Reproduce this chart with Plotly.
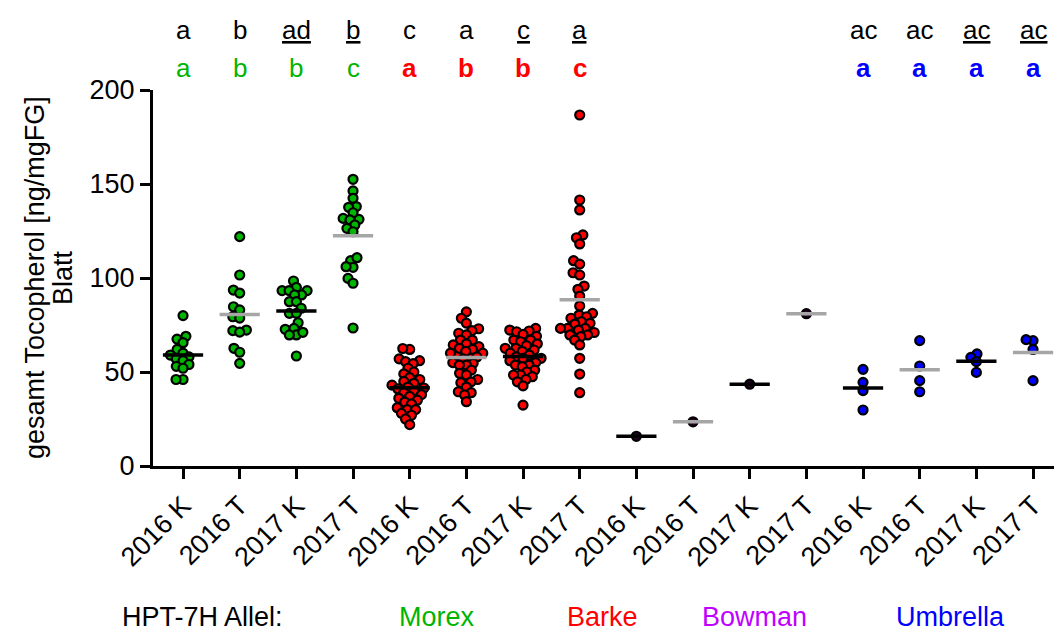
import numpy as np
import plotly.graph_objects as go

# --- data -------------------------------------------------------------
tick_labels = ["2016 K", "2016 T", "2017 K", "2017 T"] * 4
alleles = ["Morex", "Barke", "Bowman", "Umbrella"]
allele_colors = {"Morex": "#00b400", "Barke": "#ff0000", "Bowman": "#2a002a", "Umbrella": "#0000ff"}
legend_colors = {"Morex": "#00b400", "Barke": "#ff0000", "Bowman": "#c000ff", "Umbrella": "#0000ff"}

morex_2016K = [80, 69, 67.5, 65.6, 62, 60, 59, 58, 57, 56, 54, 53, 52, 46, 46]
morex_2016T = [122, 101.6, 93.6, 92, 84.7, 83, 79.4, 78.7, 72.3, 72, 71.2, 62.6, 60.5, 54.6]
morex_2017K = [98.4, 95, 93.3, 93.3, 93.3, 91, 91, 87.4, 87.4, 83.9, 81.2, 81.2, 76.2,
               72.7, 73.2, 69.7, 69.7, 71.1, 58.5]
morex_2017T = [152.5, 146.3, 142.4, 138, 137.6, 134.7, 131.7, 130.9, 131.2, 128.2, 126.4,
               124.6, 109.2, 105.7, 106, 110.8, 99.8, 97.2, 73.4]

barke_2016K = [62, 62.5, 57, 56, 55.5, 54.5, 52, 50, 49, 47, 46, 45, 44, 43, 42, 41.5,
               41, 40, 39, 38, 37, 36, 35, 34, 33, 31, 30, 30, 28, 27, 25, 22]
barke_2016T = [82, 78.6, 76, 73, 72, 70.6, 69.7, 59, 67, 58, 67, 65, 64.4, 63.5, 62.6, 62,
               61, 60, 60, 58, 57, 55, 54.6, 53.7, 53.7, 51, 49.3, 48.4, 46, 44.8, 44.3,
               42, 39.5, 39, 37.8, 34.2]
barke_2017K = [73.2, 72.3, 71.8, 71.4, 70, 69, 67, 67, 66.1, 65, 64, 62.6, 62.6, 61.7, 61,
               60, 59, 58, 57.3, 57.3, 56, 55, 53.7, 53.7, 52.8, 51, 50, 48.4, 48.4, 47.5,
               46, 44.8, 42.6, 32.4]
barke_2017T = [186.7, 141.5, 136.2, 122.9, 121.4, 118.1, 109.2, 107.4, 102.8, 101.6, 95.7,
               94, 90.4, 85.1, 81.2, 80.3, 79.4, 78.6, 76.8, 75.9, 75.5, 73.2, 73.2, 73.2,
               72.3, 71, 69.7, 69.7, 68.8, 67, 64.4, 57.3, 48.9, 39]

bowman_2016K = [15.8]
bowman_2016T = [23.5]
bowman_2017K = [43.5]
bowman_2017T = [81]

umbrella_2016K = [51.4, 44.5, 40.1, 29.8]
umbrella_2016T = [66.7, 53.2, 45.4, 39.5]
umbrella_2017K = [59.6, 57.8, 55.5, 49.8]
umbrella_2017T = [66.7, 67.2, 62, 45.4]

groups = [
    ("Morex", [morex_2016K, morex_2016T, morex_2017K, morex_2017T]),
    ("Barke", [barke_2016K, barke_2016T, barke_2017K, barke_2017T]),
    ("Bowman", [bowman_2016K, bowman_2016T, bowman_2017K, bowman_2017T]),
    ("Umbrella", [umbrella_2016K, umbrella_2016T, umbrella_2017K, umbrella_2017T]),
]

# significance letters (upper row: all lines; lower row: within allele)
letters_top = ["a", "b", "<u>ad</u>", "<u>b</u>", "c", "a", "<u>c</u>", "<u>a</u>",
               "", "", "", "", "ac", "ac", "<u>ac</u>", "<u>ac</u>"]
letters_low = ["a", "b", "b", "c", "<b>a</b>", "<b>b</b>", "<b>b</b>", "<b>c</b>",
               "", "", "", "", "<b>a</b>", "<b>a</b>", "<b>a</b>", "<b>a</b>"]
letters_low_colors = ["#00b400"] * 4 + ["#ff0000"] * 4 + ["#c000ff"] * 4 + ["#0000ff"] * 4

y_title_lines = ["gesamt Tocopherol [ng/mgFG]", "Blatt"]

# --- layout geometry ---------------------------------------------------
W, H = 1054, 633
M_L, M_R, M_T, M_B = 153, 0, 90, 167
X_RANGE = [-0.53, 15.37]
Y_RANGE = [0, 200]
PX_X = (W - M_L - M_R) / (X_RANGE[1] - X_RANGE[0])
PX_Y = (H - M_T - M_B) / (Y_RANGE[1] - Y_RANGE[0])
FONT = "Liberation Sans, Arial, sans-serif"


def swarm_offsets(values, diam=7.0):
    """Beeswarm: horizontal offsets (in x units) so markers barely overlap."""
    vals = np.asarray(values, dtype=float)
    order = np.argsort(vals)
    placed = []
    offs = np.zeros(len(vals))
    for i in order:
        y = vals[i] * PX_Y
        blocks = []
        for xj, yj in placed:
            dy = abs(y - yj)
            if dy < diam:
                w = np.sqrt(diam * diam - dy * dy)
                blocks.append((xj - w, xj + w))
        cands = [0.0] + [a for a, _ in blocks] + [b for _, b in blocks]
        cands.sort(key=lambda c: (abs(c), c))
        x = 0.0
        for c in cands:
            if all(not (a + 1e-6 < c < b - 1e-6) for a, b in blocks):
                x = c
                break
        placed.append((x, y))
        offs[i] = x / PX_X
    return offs


fig = go.Figure()
mean_lines = []
cat = 0
for allele, series in groups:
    for k, vals in enumerate(series):
        offs = swarm_offsets(vals)
        fig.add_trace(go.Scatter(
            x=cat + offs, y=vals, mode="markers", showlegend=False, hoverinfo="y",
            marker=dict(size=9, color=allele_colors[allele],
                        line=dict(color="black", width=2.2)),
        ))
        mean_lines.append((cat, float(np.mean(vals)), "black" if k % 2 == 0 else "#a6a6a6"))
        cat += 1

# group means drawn over the points
for c, m, col in mean_lines:
    fig.add_trace(go.Scatter(
        x=[c - 0.355, c + 0.355], y=[m, m], mode="lines", showlegend=False,
        hoverinfo="skip", line=dict(color=col, width=3.5),
    ))

plot_w = W - M_L - M_R
plot_h = H - M_T - M_B

annotations = []
for i in range(16):
    if letters_top[i]:
        annotations.append(dict(x=i, y=1 + 60 / plot_h, xref="x", yref="paper",
                                text=letters_top[i], showarrow=False, yanchor="middle",
                                font=dict(size=26, color="black", family=FONT)))
    if letters_low[i]:
        annotations.append(dict(x=i, y=1 + 22 / plot_h, xref="x", yref="paper",
                                text=letters_low[i], showarrow=False, yanchor="middle",
                                font=dict(size=26, color=letters_low_colors[i], family=FONT)))

# y-axis title, two lines, centred on the axis
y_mid = (Y_RANGE[0] + Y_RANGE[1]) / 2
for text, px in zip(y_title_lines, [35, 63]):
    annotations.append(dict(x=(px - M_L) / plot_w, y=y_mid,
                            xref="paper", yref="y", text=text, textangle=-90,
                            showarrow=False, xanchor="center", yanchor="middle",
                            font=dict(size=27, color="black", family=FONT)))

# allele legend below the axis
legend_y = -(617 - (H - M_B)) / plot_h
annotations.append(dict(x=(121 - M_L) / plot_w, y=legend_y, xref="paper", yref="paper",
                        text="HPT-7H Allel:", showarrow=False, xanchor="left",
                        yanchor="middle", borderpad=0,
                        font=dict(size=27, color="black", family=FONT)))
for name, px in zip(alleles, [437, 602, 754, 950]):
    annotations.append(dict(x=(px - M_L) / plot_w, y=legend_y, xref="paper", yref="paper",
                            text=name, showarrow=False, xanchor="center", yanchor="middle",
                            borderpad=0,
                            font=dict(size=27, color=legend_colors[name], family=FONT)))

fig.update_layout(
    width=W, height=H,
    margin=dict(l=M_L, r=M_R, t=M_T, b=M_B, pad=0),
    paper_bgcolor="white", plot_bgcolor="white",
    font=dict(family=FONT, color="black", size=26),
    annotations=annotations,
    xaxis=dict(range=X_RANGE, tickvals=list(range(16)), ticktext=tick_labels,
               tickangle=-45, ticks="outside", ticklen=10, tickwidth=3, tickcolor="black",
               showline=True, linewidth=3, linecolor="black", showgrid=False,
               zeroline=False, tickfont=dict(size=27, family=FONT, color="black")),
    yaxis=dict(range=Y_RANGE, tickvals=[0, 50, 100, 150, 200], ticks="outside",
               ticklen=10, tickwidth=3, tickcolor="black", showline=True, linewidth=3,
               linecolor="black", showgrid=False, zeroline=False,
               tickfont=dict(size=27, family=FONT, color="black")),
)

fig.write_html("out.html")
